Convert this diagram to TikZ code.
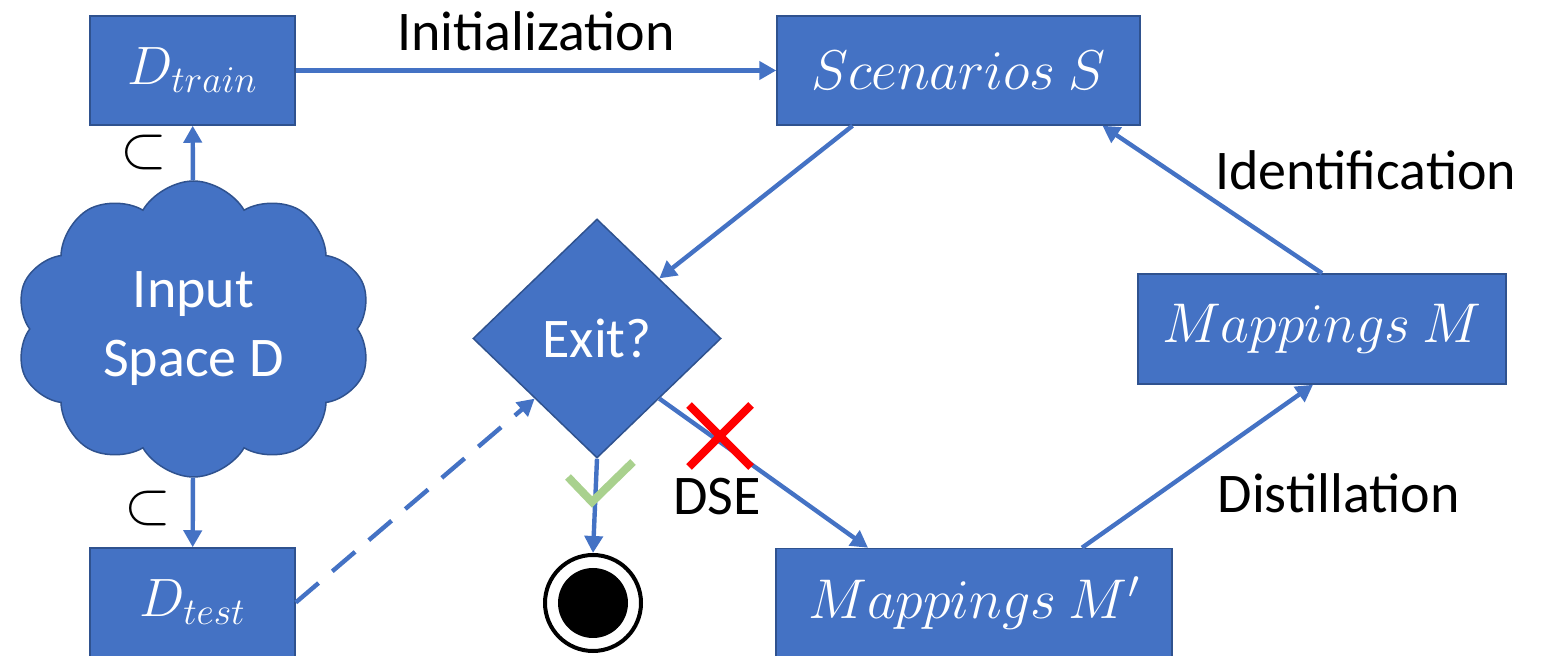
\RequirePackage{fix-cm}
\documentclass[tikz,border=0pt]{standalone}
\usepackage{fontspec}
\setmainfont{Carlito}
\usetikzlibrary{arrows.meta,shapes.geometric,shapes.symbols}
\definecolor{boxblue}{HTML}{4472C4}
\definecolor{boxedge}{HTML}{2F528F}
\definecolor{okgreen}{HTML}{A9D18E}

\begin{document}
\begin{tikzpicture}[x=0.5pt,y=-0.5pt,
  every node/.style={font=\fontsize{28}{34}\selectfont},
  bx/.style={fill=boxblue,draw=boxedge,line width=0.75pt,text=white,inner sep=0pt,minimum height=54.5pt},
  dec/.style={diamond,fill=boxblue,draw=boxedge,line width=0.75pt,text=white,inner sep=0pt,minimum width=124pt,minimum height=119.5pt},
  cld/.style={cloud,cloud puffs=10,cloud puff arc=120,aspect=1.2,fill=boxblue,draw=boxedge,line width=0.75pt,text=white,align=center,inner sep=0pt,minimum width=178pt,minimum height=148pt,font=\fontsize{28}{34.5}\selectfont},
  endring/.style={circle,draw=black,line width=2pt,fill=white,inner sep=0pt,minimum size=48pt},
  lbl/.style={inner sep=0pt,text=black},
  sub/.style={inner sep=0pt,text=black,font=\fontsize{30}{34}\selectfont},
  arr/.style={draw=boxblue,line width=2.2pt,-{Triangle[length=8.5pt,width=9pt]}},
  dsh/.style={dash pattern=on 15pt off 9pt}]
\useasboundingbox (0,0) rectangle (1552,656);

% boxes
\node[bx,minimum width=102.5pt] (dtrain) at (192.5,70.5) {\fontsize{27}{30}\selectfont$D_{train}$};
\node[bx,minimum width=102.5pt] (dtest) at (192.5,602.5) {\fontsize{27}{30}\selectfont$D_{test}$};
\node[bx,minimum width=181.5pt] (scen) at (958.5,70.5) {$Scenarios\ S$};
\node[bx,minimum width=184pt,minimum height=55pt] (mapm) at (1322,329) {$Mappings\ M$};
\node[bx,minimum width=198pt] (mapmp) at (974,603) {$Mappings\ M'$};
\node[dec] (exit) at (597,338.5) {Exit?};
\node[cld] (cloud) at (193.5,329) {Input\\Space D};

% end state
\node[endring] (endc) at (593,603) {};
\node[circle,fill=black,inner sep=0pt,minimum size=35pt] (endin) at (endc) {};
\node[lbl] (dse) at (717,497) {DSE};

% connectors
\draw[arr] (dtrain) -- node[lbl,anchor=base,yshift=9.75pt] (init) {Initialization} (scen);
\draw[arr] ([xshift=-53pt]scen.south) -- (exit.north east);
\draw[arr] (exit.south east) -- ([xshift=-53pt]mapmp.north);
\draw[arr] ([xshift=54pt]mapmp.north) -- node[lbl,anchor=base west,xshift=9pt,yshift=-23pt] (dist) {Distillation} ([xshift=-4.5pt]mapm.south);
\draw[arr] (mapm.north) -- node[lbl,anchor=base west,xshift=0.5pt,yshift=5pt] (ident) {Identification} ([xshift=72pt]scen.south);
\draw[arr,dsh] (dtest.east) -- (exit.south west);
\draw[arr] (cloud) -- node[sub,xshift=-24.5pt] (subtop) {$\subset$} (dtrain);
\draw[arr] (cloud) -- node[sub,xshift=-22.5pt,yshift=2pt] (subbot) {$\subset$} (dtest);
\draw[arr] (exit.south) -- (endc.north);

% marks
\draw[okgreen,line width=4pt] (568,477) -- (592,502) -- (633,462);
\draw[red,line width=4pt] (689,405) -- (751,467) (751,405) -- (689,467);
\end{tikzpicture}
\end{document}
